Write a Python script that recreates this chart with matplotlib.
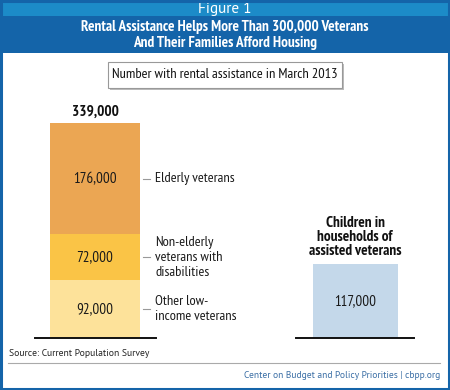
import matplotlib
matplotlib.use("Agg")
import matplotlib.pyplot as plt
from matplotlib.patches import Rectangle
from matplotlib.lines import Line2D

# ---- data ----
segment_labels = ["Other low-\nincome veterans", "Non-elderly\nveterans with\ndisabilities", "Elderly veterans"]
segment_values = [92000, 72000, 176000]
segment_texts = ["92,000", "72,000", "176,000"]
segment_colors = ["#FDE29A", "#FAC446", "#EBA653"]
total_text = "339,000"
children_value = [117000]
children_text = "117,000"
children_label = "Children in\nhouseholds of\nassisted veterans"

W, H = 450, 390
NARROW = ["PT Sans Narrow", "DejaVu Sans"]
REG = ["PT Sans", "DejaVu Sans"]
plt.rcParams["font.family"] = NARROW

fig = plt.figure(figsize=(W / 100, H / 100), dpi=100)
fig.patch.set_facecolor("white")

def fx(x):
    return x / W

def fy(y):
    return 1 - y / H

# header bands
fig.patches.append(Rectangle((0, fy(16)), 1, 16 / H, transform=fig.transFigure,
                             facecolor="#1C8BC8", edgecolor="none", zorder=0))
fig.patches.append(Rectangle((0, fy(53)), 1, 37 / H, transform=fig.transFigure,
                             facecolor="#1464A9", edgecolor="none", zorder=0))
# border around whole figure
fig.patches.append(Rectangle((fx(1), fy(389)), fx(448), 388 / H, transform=fig.transFigure,
                             facecolor="none", edgecolor="#1464A9", lw=2.2, zorder=5))

fig.text(0.5, fy(9), "Figure 1", color="white", fontsize=11, ha="center", va="center", family=REG)
fig.text(0.5, fy(27), "Rental Assistance Helps More Than 300,000 Veterans",
         color="white", fontsize=11, fontweight="bold", ha="center", va="center")
fig.text(0.5, fy(43.5), "And Their Families Afford Housing",
         color="white", fontsize=11, fontweight="bold", ha="center", va="center")

# subtitle box with shadow
fig.patches.append(Rectangle((fx(110), fy(90)), fx(234), 26 / H, transform=fig.transFigure,
                             facecolor="#BBBBBB", edgecolor="none", zorder=1))
fig.patches.append(Rectangle((fx(108), fy(88)), fx(234), 26 / H, transform=fig.transFigure,
                             facecolor="white", edgecolor="#999999", lw=0.8, zorder=2))
fig.text(fx(225), fy(75), "Number with rental assistance in March 2013", fontsize=10.4,
         ha="center", va="center", zorder=3, color="#111111")

# bar axes: baseline at y=338 px, scale ~0.631 px per 1000
base_px, top_px = 338, 100
px_per_unit = 214 / 339000
ax = fig.add_axes([0, fy(base_px), 1, (base_px - top_px) / H])
ax.set_xlim(0, W)
ax.set_ylim(0, (base_px - top_px) / px_per_unit)
ax.axis("off")

left_x, left_w = 95, 90
bottom = 0
for v, t, c, lab in zip(segment_values, segment_texts, segment_colors, segment_labels):
    ax.bar(left_x, v, width=left_w, bottom=bottom, color=c, edgecolor="none")
    mid = bottom + v / 2
    ax.text(left_x, mid, t, ha="center", va="center", fontsize=10.8, color="#1a1a1a")
    ax.plot([left_x + left_w / 2 + 3, left_x + left_w / 2 + 10], [mid, mid], color="#999999", lw=0.8)
    ax.text(left_x + left_w / 2 + 15, mid, lab, ha="left", va="center", fontsize=10.4,
            color="#1a1a1a", linespacing=1.2)
    bottom += v
ax.text(left_x, bottom + 7000, total_text, ha="center", va="bottom", fontsize=11,
        fontweight="bold", color="#111111")

right_x, right_w = 355, 85
ax.bar(right_x, children_value[0], width=right_w, color="#C4D8EA", edgecolor="none")
ax.text(right_x, children_value[0] / 2, children_text, ha="center", va="center", fontsize=10.8,
        color="#1a1a1a")
ax.text(right_x, children_value[0] + 10000, children_label, ha="center", va="bottom", fontsize=11,
        fontweight="bold", color="#111111", linespacing=0.98)

# baselines
ax.plot([35, 156], [0, 0], color="#111111", lw=1.4, clip_on=False)
ax.plot([296, 414], [0, 0], color="#111111", lw=1.4, clip_on=False)

# footer
fig.text(fx(9), fy(354), "Source: Current Population Survey", fontsize=6.9, ha="left", va="center",
         family=REG, color="#222222")
fig.lines.append(Line2D([fx(8), fx(440)], [fy(363), fy(363)], transform=fig.transFigure,
                        color="#AAAAAA", lw=0.8))
fig.text(fx(440), fy(375), "Center on Budget and Policy Priorities | cbpp.org", fontsize=6.8,
         ha="right", va="center", family=REG, color="#3A6EA5")

fig.savefig("out.png", dpi=100, facecolor="white")
